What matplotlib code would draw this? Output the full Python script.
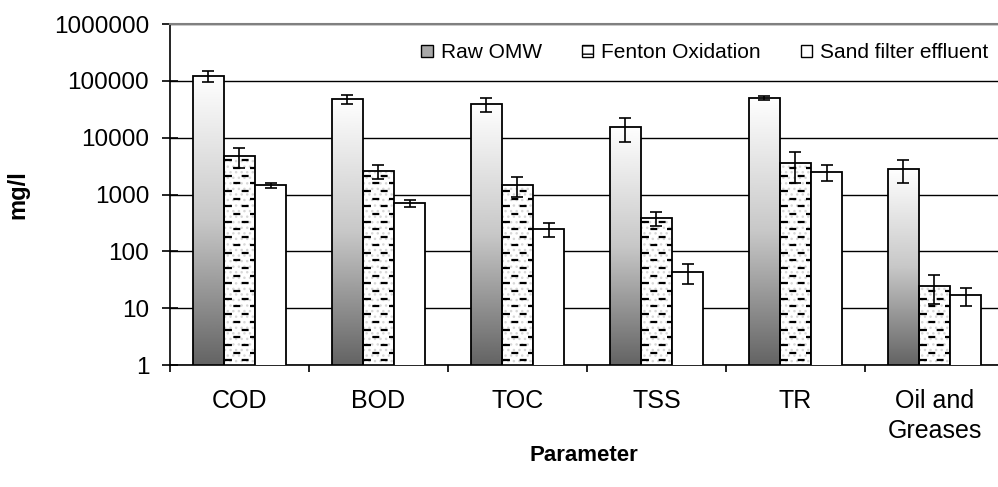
import numpy as np
import matplotlib
matplotlib.use('Agg')
import matplotlib.pyplot as plt
from matplotlib.transforms import blended_transform_factory
from matplotlib.ticker import FixedLocator, NullLocator, FuncFormatter
from matplotlib.patches import Patch

plt.rcParams['font.family'] = ['Liberation Sans', 'DejaVu Sans']
plt.rcParams['lines.scale_dashes'] = False

# data
params = ['COD', 'BOD', 'TOC', 'TSS', 'TR', 'Oil and\nGreases']
raw_omw = [123000, 48000, 39000, 15500, 50000, 2800]
raw_err = [28000, 8500, 11000, 7000, 4000, 1200]
fenton = [4800, 2600, 1450, 390, 3600, 25]
fenton_err = [1900, 700, 550, 110, 2000, 13]
sand = [1450, 700, 246, 43, 2500, 17]
sand_err = [170, 90, 70, 16, 750, 6]
series_names = ['Raw OMW', 'Fenton Oxidation', 'Sand filter effluent']

fig = plt.figure(figsize=(9.98, 4.87), dpi=100)
ax = fig.add_axes([0.1703, 0.2505, 0.8297, 0.7002])
ax.set_yscale('log')

x = np.arange(len(params))
w = 0.224
err_kw = dict(ecolor='black', elinewidth=1.2, capsize=4.5, capthick=1.2)

# gridlines
ax.set_axisbelow(True)
ax.yaxis.grid(True, color='black', linewidth=1.0)

# raw OMW: gradient bars
b_raw = ax.bar(x - w, raw_omw, w, color='none', edgecolor='black', linewidth=1.3,
               yerr=raw_err, error_kw=err_kw, zorder=3)
blend = blended_transform_factory(ax.transData, ax.transAxes)
grad = np.linspace(0, 1, 256).reshape(-1, 1)
cm = matplotlib.colors.LinearSegmentedColormap.from_list('g', ['#646464', '#c8c8c8', '#ffffff'])
for xi, h in zip(x, raw_omw):
    top = np.log10(h) / 6.0
    ax.imshow(grad, cmap=cm, aspect='auto', origin='lower',
              extent=(xi - 1.5 * w, xi - 0.5 * w, 0, top),
              transform=blend, zorder=2, interpolation='bilinear')

# Fenton: faint dotted background + dashed rows
b_dot = ax.bar(x, fenton, w, color='white', edgecolor='#d8d8d8', linewidth=0,
               hatch='...', zorder=2)
b_fen = ax.bar(x, fenton, w, color='none', edgecolor='black', linewidth=1.3,
               yerr=fenton_err, error_kw=err_kw, zorder=3)
row_step = 7.7 / 341.0
for xi, h, patch in zip(x, fenton, b_dot.patches):
    top = np.log10(h) / 6.0
    yy = row_step * 0.6
    k = 0
    while yy < top:
        off = 0 if k % 2 == 0 else 6.0
        ln, = ax.plot([xi - 0.5 * w + 0.01, xi + 0.5 * w], [yy, yy], transform=blend,
                      color='black', linewidth=1.6, linestyle=(off, (5.0, 7.0)),
                      zorder=2.5)
        ln.set_clip_path(patch)
        yy += row_step
        k += 1

# sand filter effluent
b_sand = ax.bar(x + w, sand, w, color='white', edgecolor='black', linewidth=1.3,
                yerr=sand_err, error_kw=err_kw, zorder=3)

ax.set_xlim(-0.5, 5.457)
ax.set_ylim(1, 1e6)

# axes styling
ax.spines['right'].set_visible(False)
ax.spines['top'].set_color('#808080')
ax.spines['top'].set_linewidth(1.5)
ax.spines['left'].set_linewidth(1.2)
ax.spines['bottom'].set_linewidth(1.2)

ax.yaxis.set_major_locator(FixedLocator([1, 10, 100, 1000, 10000, 100000, 1000000]))
ax.yaxis.set_minor_locator(NullLocator())
ax.yaxis.set_major_formatter(FuncFormatter(lambda v, p: '%d' % round(v)))
ax.tick_params(axis='y', direction='inout', length=12, width=1.2, labelsize=17.5, pad=9)

ax.xaxis.set_major_locator(FixedLocator(np.arange(-0.5, 6, 1.0)))
ax.xaxis.set_major_formatter(FuncFormatter(lambda v, p: ''))
ax.xaxis.set_minor_locator(FixedLocator(x))
ax.set_xticklabels(params, minor=True)
ax.tick_params(axis='x', which='major', direction='out', length=5, width=1.2)
ax.tick_params(axis='x', which='minor', length=0, labelsize=18, pad=17)
for lbl in ax.get_xticklabels(minor=True):
    lbl.set_linespacing(1.35)

ax.set_ylabel('mg/l', fontsize=17, fontweight='bold')
ax.yaxis.set_label_coords(-0.17, 0.5)
ax.set_xlabel('Parameter', fontsize=16, fontweight='bold')
ax.xaxis.set_label_coords(0.5, -0.264)
ax.xaxis.label.set_va('center')

handles = [Patch(facecolor='#a8a8a8', edgecolor='black', linewidth=1),
           Patch(facecolor='white', edgecolor='black', linewidth=1, hatch='--'),
           Patch(facecolor='white', edgecolor='black', linewidth=1)]
ax.legend(handles, series_names, ncol=3, loc='center', bbox_to_anchor=(0.646, 0.915),
          frameon=False, fontsize=15, handlelength=0.55, handleheight=0.55,
          handletextpad=0.4, columnspacing=1.9)

plt.savefig('out.png', dpi=100)
